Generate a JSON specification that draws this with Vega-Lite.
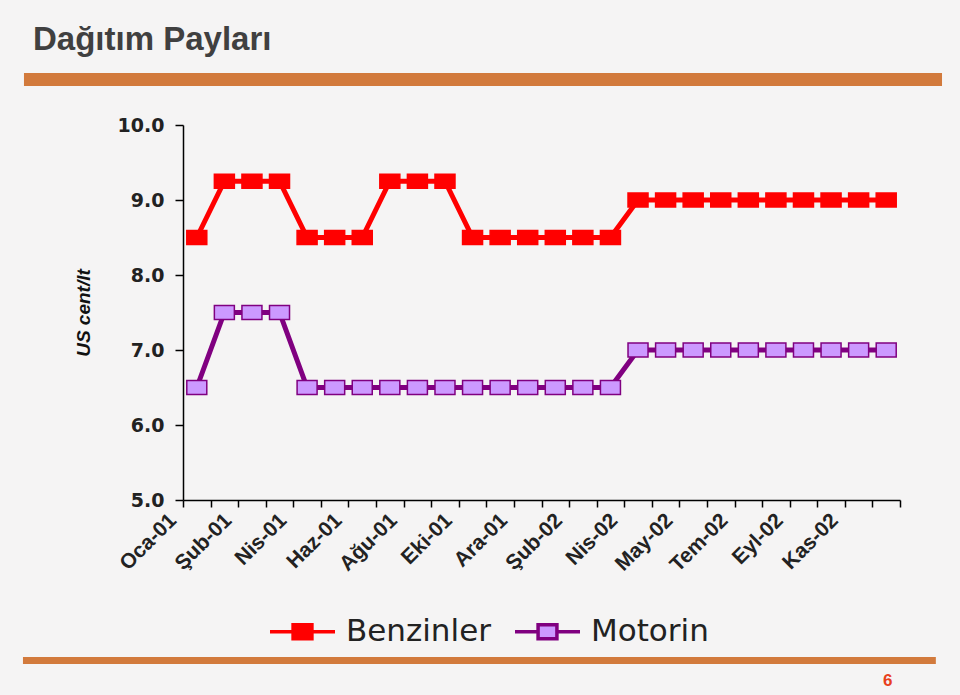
{
  "$schema": "https://vega.github.io/schema/vega-lite/v6.json",
  "width": 717,
  "height": 375,
  "autosize": {"type": "none"},
  "padding": {"left": 183, "top": 125, "right": 60, "bottom": 195},
  "background": "#f5f4f4",
  "config": {"view": {"stroke": null}, "font": "Liberation Sans"},
  "title": {
    "text": "Dağıtım Payları",
    "anchor": "start",
    "frame": "group",
    "dx": -150,
    "dy": 20,
    "fontSize": 33,
    "font": "Liberation Sans",
    "fontWeight": "bold",
    "color": "#404040",
    "baseline": "alphabetic",
    "offset": 10
  },
  "datasets": {
    "veri": [
      {"donem": "Oca-01", "yakit": "Benzinler", "deger": 8.5},
      {"donem": "Oca-01 II", "yakit": "Benzinler", "deger": 9.25},
      {"donem": "Şub-01", "yakit": "Benzinler", "deger": 9.25},
      {"donem": "Mar-01", "yakit": "Benzinler", "deger": 9.25},
      {"donem": "Nis-01", "yakit": "Benzinler", "deger": 8.5},
      {"donem": "May-01", "yakit": "Benzinler", "deger": 8.5},
      {"donem": "Haz-01", "yakit": "Benzinler", "deger": 8.5},
      {"donem": "Tem-01", "yakit": "Benzinler", "deger": 9.25},
      {"donem": "Ağu-01", "yakit": "Benzinler", "deger": 9.25},
      {"donem": "Eyl-01", "yakit": "Benzinler", "deger": 9.25},
      {"donem": "Eki-01", "yakit": "Benzinler", "deger": 8.5},
      {"donem": "Kas-01", "yakit": "Benzinler", "deger": 8.5},
      {"donem": "Ara-01", "yakit": "Benzinler", "deger": 8.5},
      {"donem": "Oca-02", "yakit": "Benzinler", "deger": 8.5},
      {"donem": "Şub-02", "yakit": "Benzinler", "deger": 8.5},
      {"donem": "Mar-02", "yakit": "Benzinler", "deger": 8.5},
      {"donem": "Nis-02", "yakit": "Benzinler", "deger": 9.0},
      {"donem": "Nis-02 II", "yakit": "Benzinler", "deger": 9.0},
      {"donem": "May-02", "yakit": "Benzinler", "deger": 9.0},
      {"donem": "Haz-02", "yakit": "Benzinler", "deger": 9.0},
      {"donem": "Tem-02", "yakit": "Benzinler", "deger": 9.0},
      {"donem": "Ağu-02", "yakit": "Benzinler", "deger": 9.0},
      {"donem": "Eyl-02", "yakit": "Benzinler", "deger": 9.0},
      {"donem": "Eki-02", "yakit": "Benzinler", "deger": 9.0},
      {"donem": "Kas-02", "yakit": "Benzinler", "deger": 9.0},
      {"donem": "Ara-02", "yakit": "Benzinler", "deger": 9.0},
      {"donem": "Oca-01", "yakit": "Motorin", "deger": 6.5},
      {"donem": "Oca-01 II", "yakit": "Motorin", "deger": 7.5},
      {"donem": "Şub-01", "yakit": "Motorin", "deger": 7.5},
      {"donem": "Mar-01", "yakit": "Motorin", "deger": 7.5},
      {"donem": "Nis-01", "yakit": "Motorin", "deger": 6.5},
      {"donem": "May-01", "yakit": "Motorin", "deger": 6.5},
      {"donem": "Haz-01", "yakit": "Motorin", "deger": 6.5},
      {"donem": "Tem-01", "yakit": "Motorin", "deger": 6.5},
      {"donem": "Ağu-01", "yakit": "Motorin", "deger": 6.5},
      {"donem": "Eyl-01", "yakit": "Motorin", "deger": 6.5},
      {"donem": "Eki-01", "yakit": "Motorin", "deger": 6.5},
      {"donem": "Kas-01", "yakit": "Motorin", "deger": 6.5},
      {"donem": "Ara-01", "yakit": "Motorin", "deger": 6.5},
      {"donem": "Oca-02", "yakit": "Motorin", "deger": 6.5},
      {"donem": "Şub-02", "yakit": "Motorin", "deger": 6.5},
      {"donem": "Mar-02", "yakit": "Motorin", "deger": 6.5},
      {"donem": "Nis-02", "yakit": "Motorin", "deger": 7.0},
      {"donem": "Nis-02 II", "yakit": "Motorin", "deger": 7.0},
      {"donem": "May-02", "yakit": "Motorin", "deger": 7.0},
      {"donem": "Haz-02", "yakit": "Motorin", "deger": 7.0},
      {"donem": "Tem-02", "yakit": "Motorin", "deger": 7.0},
      {"donem": "Ağu-02", "yakit": "Motorin", "deger": 7.0},
      {"donem": "Eyl-02", "yakit": "Motorin", "deger": 7.0},
      {"donem": "Eki-02", "yakit": "Motorin", "deger": 7.0},
      {"donem": "Kas-02", "yakit": "Motorin", "deger": 7.0},
      {"donem": "Ara-02", "yakit": "Motorin", "deger": 7.0}
    ]
  },
  "layer": [
    {
      "data": {"name": "veri"},
      "encoding": {
        "x": {
          "field": "donem",
          "type": "ordinal",
          "sort": null,
          "bandPosition": 0.5,
          "scale": {"type": "band", "paddingInner": 0, "paddingOuter": 0},
          "axis": {
            "title": null,
            "tickBand": "extent",
            "labelAngle": -45,
            "labelAlign": "right",
            "labelBaseline": "middle",
            "labelOffset": -24,
            "labelPadding": 10,
            "tickSize": 7,
            "tickColor": "#000",
            "tickWidth": 1.5,
            "domainColor": "#000",
            "domainWidth": 1.5,
            "labelFont": "Liberation Sans",
            "labelFontWeight": "bold",
            "labelFontSize": 21,
            "labelColor": "#222",
            "labelOverlap": false,
            "labelBound": false,
            "labelFlush": false,
            "labelExpr": "indexof(['Oca-01','Şub-01','Nis-01','Haz-01','Ağu-01','Eki-01','Ara-01','Şub-02','Nis-02','May-02','Tem-02','Eyl-02','Kas-02'], datum.value) >= 0 ? datum.value : ''"
          }
        },
        "y": {
          "field": "deger",
          "type": "quantitative",
          "scale": {"domain": [5, 10], "nice": false, "zero": false},
          "axis": {
            "title": "US cent/lt",
            "values": [5, 6, 7, 8, 9, 10],
            "format": ".1f",
            "grid": false,
            "labelFont": "DejaVu Sans",
            "labelFontWeight": "bold",
            "labelFontSize": 19,
            "labelColor": "#222",
            "tickSize": 8,
            "tickWidth": 1.5,
            "labelPadding": 11,
            "domainColor": "#000",
            "domainWidth": 1.5,
            "tickColor": "#000",
            "titleFont": "Liberation Sans",
            "titleFontStyle": "italic",
            "titleFontWeight": "bold",
            "titleFontSize": 19,
            "titleColor": "#111",
            "titlePadding": 24
          }
        }
      },
      "layer": [
        {
          "mark": {"type": "line", "strokeWidth": 5},
          "encoding": {
            "stroke": {
              "field": "yakit",
              "type": "nominal",
              "scale": {"domain": ["Benzinler", "Motorin"], "range": ["#ff0000", "#800080"]},
              "legend": {
                "title": null,
                "orient": "none",
                "legendX": 85,
                "legendY": 472,
                "direction": "horizontal",
                "symbolType": "M-1,0H-0.29M0.29,0H1M-0.29,-0.215H0.29V0.215H-0.29Z",
                "symbolSize": 4225,
                "symbolStrokeWidth": 3.5,
                "labelFont": "DejaVu Sans",
                "labelFontSize": 31,
                "labelColor": "#222",
                "labelOffset": 9,
                "columnPadding": 17,
                "padding": 0
              }
            }
          }
        },
        {
          "mark": {"type": "point", "filled": true, "opacity": 1, "size": 400, "strokeWidth": 1.5, "shape": "M-1,-0.7H1V0.7H-1Z"},
          "encoding": {
            "stroke": {"field": "yakit", "type": "nominal"},
            "fill": {
              "field": "yakit",
              "type": "nominal",
              "scale": {"domain": ["Benzinler", "Motorin"], "range": ["#ff0000", "#cc99ff"]},
              "legend": {
                "title": null,
                "orient": "none",
                "legendX": 85,
                "legendY": 472,
                "direction": "horizontal",
                "symbolType": "M-1,0H-0.29M0.29,0H1M-0.29,-0.215H0.29V0.215H-0.29Z",
                "symbolSize": 4225,
                "symbolStrokeWidth": 3.5,
                "labelFont": "DejaVu Sans",
                "labelFontSize": 31,
                "labelColor": "#222",
                "labelOffset": 9,
                "columnPadding": 17,
                "padding": 0
              }
            }
          }
        }
      ]
    },
    {
      "data": {"values": [{}]},
      "mark": {"type": "rule", "color": "#d27a3c", "strokeWidth": 13},
      "encoding": {
        "x": {"datum": -0.2218, "type": "quantitative", "scale": {"domain": [0, 1], "nice": false, "zero": false}, "axis": null},
        "x2": {"datum": 1.0586},
        "y": {"datum": 10.607, "type": "quantitative", "scale": {"domain": [5, 10], "nice": false, "zero": false}, "axis": null}
      }
    },
    {
      "data": {"values": [{}]},
      "mark": {"type": "rule", "color": "#d27a3c", "strokeWidth": 7},
      "encoding": {
        "x": {"datum": -0.2232, "type": "quantitative", "scale": {"domain": [0, 1], "nice": false, "zero": false}, "axis": null},
        "x2": {"datum": 1.05},
        "y": {"datum": 2.86, "type": "quantitative", "scale": {"domain": [5, 10], "nice": false, "zero": false}, "axis": null}
      }
    },
    {
      "data": {"values": [{}]},
      "mark": {"type": "text", "text": "6", "color": "#e8401c", "font": "Liberation Sans", "fontWeight": "bold", "fontSize": 17, "align": "center", "baseline": "middle"},
      "encoding": {
        "x": {"datum": 0.983, "type": "quantitative", "scale": {"domain": [0, 1], "nice": false, "zero": false}, "axis": null},
        "y": {"datum": 2.587, "type": "quantitative", "scale": {"domain": [5, 10], "nice": false, "zero": false}, "axis": null}
      }
    }
  ],
  "resolve": {"scale": {"x": "independent", "y": "independent"}}
}
